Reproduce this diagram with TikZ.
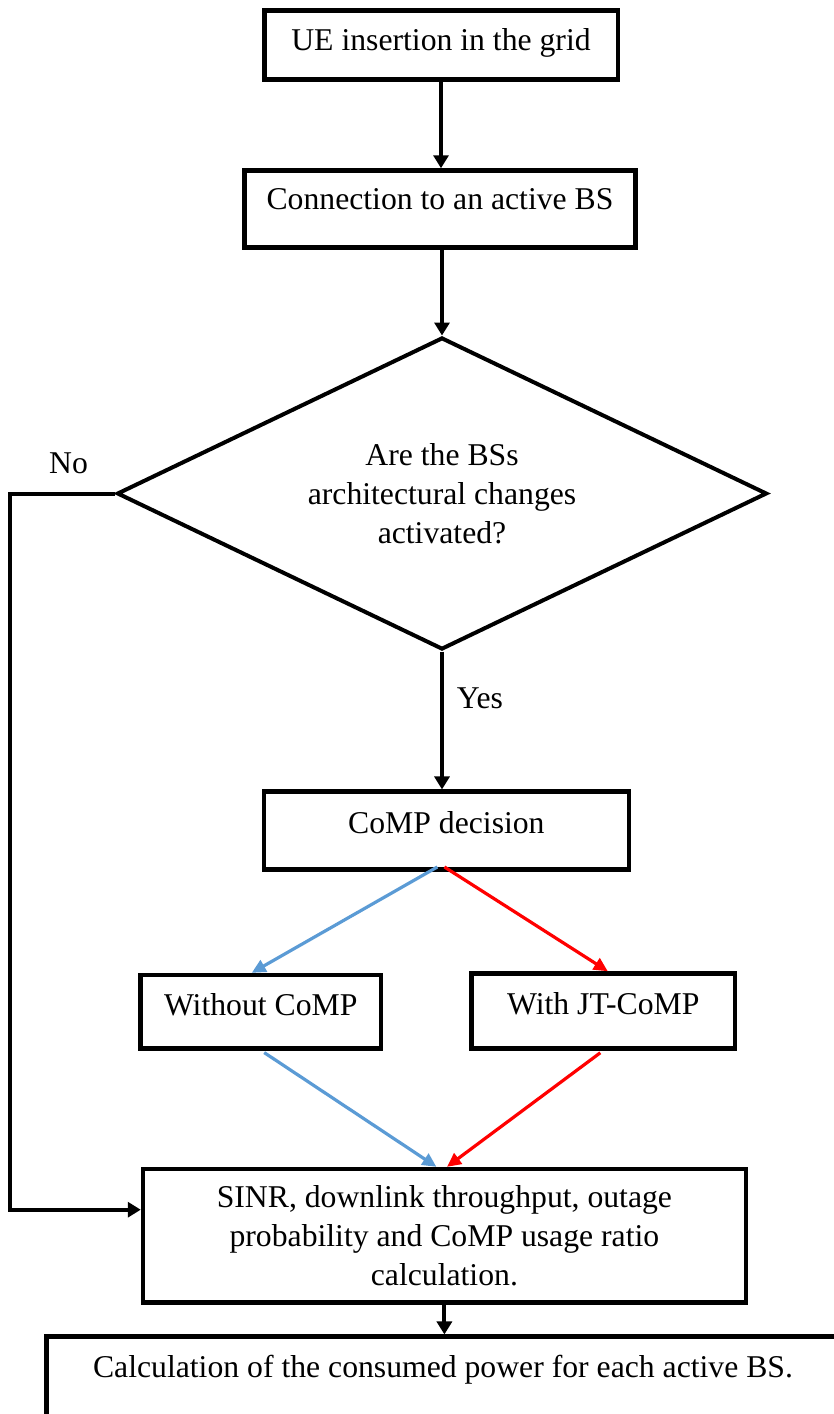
\documentclass[tikz,border=0pt]{standalone}
\usepackage{fontspec}
\setmainfont{Liberation Serif}
\usetikzlibrary{arrows.meta,shapes.geometric,calc}

\definecolor{pathblue}{HTML}{5B9BD5}
\definecolor{pathred}{HTML}{FF0000}

\begin{document}
\begin{tikzpicture}[x=1pt,y=-1pt,
  every node/.style={font=\fontsize{31.7}{39}\selectfont, inner sep=0pt},
  frame/.style={draw, line width=4.5pt, rectangle},
  box/.style={frame, text height=21pt},
  lift/.style={text depth=#1},
  decision/.style={draw, line width=4pt, diamond, aspect=2.1, align=center},
  flow/.style={line width=4pt, -{Triangle[length=13pt,width=15pt]}},
  route/.style={line width=3.2pt, -{Triangle[length=14pt,width=13pt]}},
]
\useasboundingbox (0,0) rectangle (834,1414);

% process boxes
\node[box, lift=10pt, minimum width=353.5pt, minimum height=69pt] (ins) at (441,45) {UE insertion in the grid};
\node[box, lift=20pt, minimum width=391pt, minimum height=77pt] (conn) at (440,209) {Connection to an active BS};
\node[decision, minimum width=650pt, minimum height=312pt] (arch) at (442,493.5) {Are the BSs\\architectural changes\\activated?};
\node[box, lift=16pt, minimum width=365pt, minimum height=78pt] (comp) at (446.4,830.7) {CoMP decision};
\node[box, lift=14pt, minimum width=240.5pt, minimum height=73.3pt] (wo) at (260.75,1011.7) {Without CoMP};
\node[box, lift=14pt, minimum width=263.3pt, minimum height=75pt] (jt) at (603.3,1011) {With JT-CoMP};
\node[frame, align=center, minimum width=602.8pt, minimum height=133.3pt] (sinr) at (444.4,1235.7) {SINR, downlink throughput, outage\\probability and CoMP usage ratio\\calculation.};
\node[box, lift=19pt, minimum width=792.6pt, minimum height=79.3pt] (power) at (443,1376.35) {Calculation of the consumed power for each active BS.};

% branch labels
\node (no) at (68.5,463) {No};
\node (yes) at (480,698.5) {Yes};

% main flow
\draw[flow] (ins.south) -- (ins.south |- conn.north);
\draw[flow] (conn.south -| arch.north) -- (arch.north);
\draw[flow] (arch.south) -- (arch.south |- comp.north);
\draw[flow] (sinr.south) -- (sinr.south |- power.north);

% bypass when the architectural changes are off
\coordinate (nobend) at (9.7,495);
\draw[flow] (arch.west) -- (arch.west -| nobend) |- ([yshift=26pt]sinr.west);

% CoMP branches
\draw[route, pathblue] ([xshift=-9pt,yshift=5pt]comp.south) -- ([xshift=-9pt]wo.north);
\draw[route, pathred] ([xshift=-2pt,yshift=5pt]comp.south) -- ([xshift=4.5pt]jt.north);
\draw[route, pathblue] ([xshift=3.5pt,yshift=-2pt]wo.south) -- ([xshift=-8pt]sinr.north);
\draw[route, pathred] ([xshift=-3pt,yshift=-2pt]jt.south) -- ([xshift=2.6pt]sinr.north);
\end{tikzpicture}
\end{document}
